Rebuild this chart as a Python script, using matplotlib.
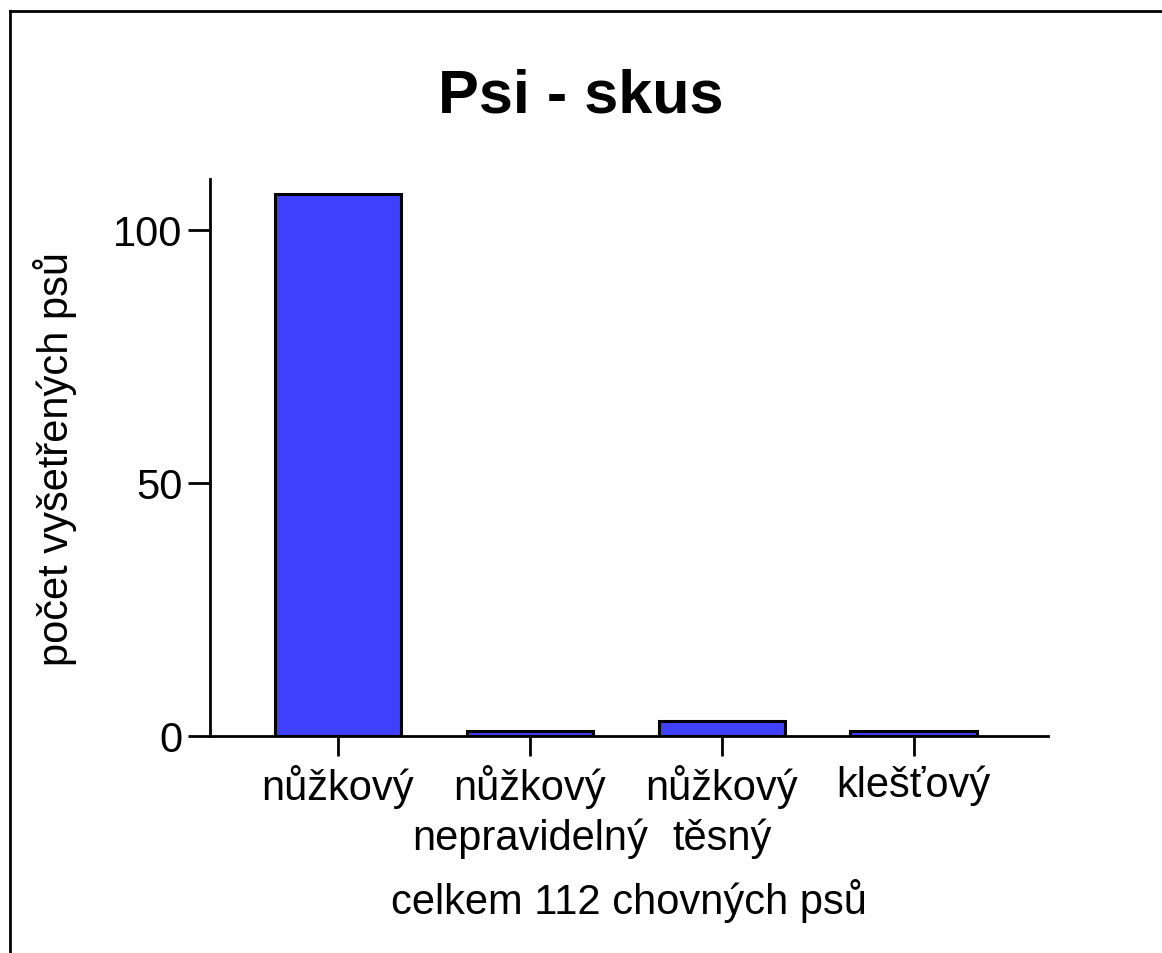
import matplotlib
matplotlib.use("Agg")
import matplotlib.pyplot as plt
from matplotlib.lines import Line2D

# data
categories = ["nůžkový", "nůžkový\nnepravidelný", "nůžkový\ntěsný", "klešťový"]
counts = [107, 1, 3, 1]
yticks = [0, 50, 100]

plt.rcParams["font.family"] = ["Liberation Sans", "DejaVu Sans"]

fig = plt.figure(figsize=(11.62, 9.54), dpi=100)
ax = fig.add_axes([0.1807, 0.2275, 0.7213, 0.5835])

x = list(range(len(categories)))
ax.bar(x, counts, width=0.66, color="#4040ff", edgecolor="black", linewidth=2.2, zorder=3)

ax.set_xlim(-0.667, 3.70)
ax.set_ylim(0, 110)
ax.set_yticks(yticks)
ax.set_xticks(x)
ax.set_xticklabels(categories, fontsize=30, linespacing=1.3)
ax.tick_params(axis="y", labelsize=30, length=16, width=2, pad=4)
ax.tick_params(axis="x", length=14.5, width=2, pad=6)

for s in ["top", "right"]:
    ax.spines[s].set_visible(False)
for s in ["left", "bottom"]:
    ax.spines[s].set_linewidth(2)

ax.set_ylabel("počet vyšetřených psů", fontsize=30, labelpad=26)
ax.set_xlabel("celkem 112 chovných psů", fontsize=30, labelpad=14)
fig.text(0.5, 0.898, "Psi - skus", fontsize=44, fontweight="bold", ha="center", va="center")

# frame lines at left and top edge only (as in the original picture)
fig.lines.append(Line2D([0.009, 0.009], [0.0, 0.987], transform=fig.transFigure,
                        color="black", linewidth=2))
fig.lines.append(Line2D([0.009, 1.0], [0.987, 0.987], transform=fig.transFigure,
                        color="black", linewidth=2))

fig.savefig("out.png", dpi=100)
